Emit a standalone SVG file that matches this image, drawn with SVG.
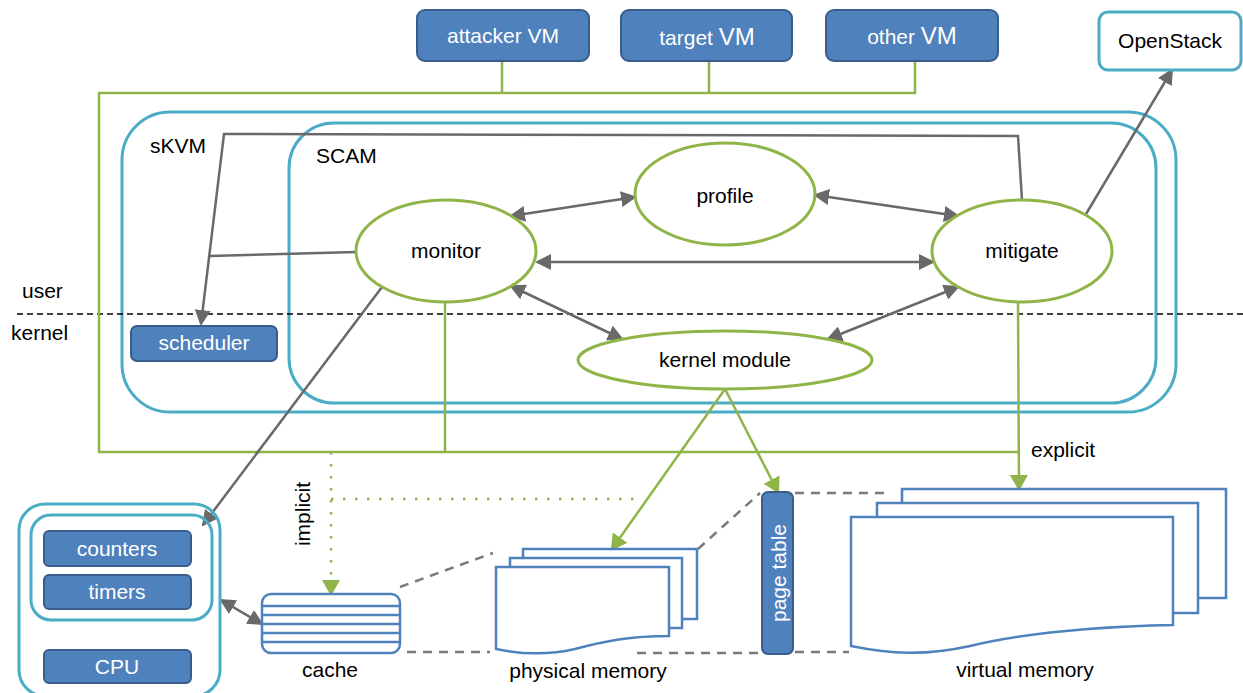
<svg xmlns="http://www.w3.org/2000/svg" width="1243" height="693" viewBox="0 0 1243 693">
  <style>
    text { font-family: "Liberation Sans", Arial, sans-serif; font-size: 21px; fill: #000; }
    .w { fill: #fff; }
    .mid { text-anchor: middle; }
    .blk { fill: #4f81bd; stroke: #385d8a; stroke-width: 2; }
    .aqua { fill: none; stroke: #4bacc6; stroke-width: 3; }
    .aquaw { fill: #fff; stroke: #4bacc6; stroke-width: 3; }
    .oval { fill: #fff; stroke: #8fb448; stroke-width: 3; }
    .doc { fill: #fff; stroke: #4f81bd; stroke-width: 2.5; }
    .gray { fill: none; stroke: #696969; stroke-width: 2.5; }
    .green { fill: none; stroke: #8fb448; stroke-width: 2.5; }
    .dot { fill: none; stroke: #8fb448; stroke-width: 2.5; stroke-dasharray: 2.5 9.5; }
    .dash { fill: none; stroke: #7a7a7a; stroke-width: 2.5; stroke-dasharray: 9 7; }
    .ukline { fill: none; stroke: #000; stroke-width: 1.5; stroke-dasharray: 6 4; }
  </style>
  <defs>
    <marker id="ah-gray" markerUnits="userSpaceOnUse" viewBox="0 0 16 16" markerWidth="16" markerHeight="16" refX="14" refY="8" orient="auto-start-reverse">
      <path d="M0,0 L16,8 L0,16 z" fill="#696969"/>
    </marker>
    <marker id="ah-green" markerUnits="userSpaceOnUse" viewBox="0 0 16 18" markerWidth="16" markerHeight="18" refX="14" refY="9" orient="auto-start-reverse">
      <path d="M0,0 L16,9 L0,18 z" fill="#8fb448"/>
    </marker>
  </defs>

  <rect width="1243" height="693" fill="#fff"/>

  <!-- containers -->
  <g id="skvm">
    <rect class="aqua" x="122" y="112" width="1054" height="300" rx="48"/>
    <text x="150" y="153">sKVM</text>
  </g>
  <g id="scam">
    <rect class="aqua" x="289" y="123" width="867" height="280" rx="45"/>
    <text x="316" y="163">SCAM</text>
  </g>

  <!-- user / kernel boundary -->
  <g id="boundary">
    <line class="ukline" x1="17" y1="314" x2="1243" y2="314"/>
    <text x="22" y="298">user</text>
    <text x="11" y="340">kernel</text>
  </g>

  <!-- connectors -->
  <g id="connectors">
    <!-- VM attachment frame -->
    <path class="green" d="M502,61 V93 M709,61 V93 M915,61 V93 H99 V452 H1020"/>
    <path class="green" d="M445,302 V452"/>
    <path class="green" d="M1018,302 L1019,489" marker-end="url(#ah-green)"/>
    <path class="green" d="M725,389 L612,549" marker-end="url(#ah-green)"/>
    <path class="green" d="M725,389 L778,492" marker-end="url(#ah-green)"/>
    <path class="dot" d="M331,452 V594" marker-end="url(#ah-green)"/>
    <path class="dot" d="M331,499 H640"/>

    <path class="gray" d="M511,216 L635,197" marker-start="url(#ah-gray)" marker-end="url(#ah-gray)"/>
    <path class="gray" d="M815,195 L958,216" marker-start="url(#ah-gray)" marker-end="url(#ah-gray)"/>
    <path class="gray" d="M537,262 L933,262" marker-start="url(#ah-gray)" marker-end="url(#ah-gray)"/>
    <path class="gray" d="M511,286 L622,339" marker-start="url(#ah-gray)" marker-end="url(#ah-gray)"/>
    <path class="gray" d="M958,287 L828,339" marker-start="url(#ah-gray)" marker-end="url(#ah-gray)"/>
    <path class="gray" d="M1022,200 L1018,136 L224,134 L201,324" marker-end="url(#ah-gray)"/>
    <path class="gray" d="M356,252 L210,256"/>
    <path class="gray" d="M382,287 L203,525" marker-end="url(#ah-gray)"/>
    <path class="gray" d="M1086,214 L1172,70" marker-end="url(#ah-gray)"/>
    <path class="gray" d="M221,600 L262,624" marker-start="url(#ah-gray)" marker-end="url(#ah-gray)"/>

    <!-- memory mapping guides -->
    <path class="dash" d="M400,587 L493,553"/>
    <path class="dash" d="M407,652 H490"/>
    <path class="dash" d="M698,549 L760,493"/>
    <path class="dash" d="M637,653 H760"/>
    <path class="dash" d="M795,493 H884"/>
    <path class="dash" d="M795,652 H849"/>

    <text x="1031" y="457">explicit</text>
    <text class="mid" transform="translate(310,514) rotate(-90)">implicit</text>
  </g>

  <!-- guest VMs -->
  <g id="attacker-vm">
    <rect class="blk" x="417" y="10" width="172" height="51" rx="8"/>
    <text class="w mid" x="503" y="43">attacker VM</text>
  </g>
  <g id="target-vm">
    <rect class="blk" x="621" y="10" width="171" height="51" rx="8"/>
    <text class="w mid" x="707" y="45">target <tspan font-size="24">VM</tspan></text>
  </g>
  <g id="other-vm">
    <rect class="blk" x="826" y="10" width="172" height="51" rx="8"/>
    <text class="w mid" x="912" y="44">other <tspan font-size="24">VM</tspan></text>
  </g>
  <g id="openstack">
    <rect class="aquaw" x="1099" y="12" width="142" height="58" rx="9"/>
    <text class="mid" x="1170" y="48">OpenStack</text>
  </g>

  <!-- SCAM components -->
  <g id="profile">
    <ellipse class="oval" cx="725" cy="194" rx="90" ry="51"/>
    <text class="mid" x="725" y="203">profile</text>
  </g>
  <g id="monitor">
    <ellipse class="oval" cx="446" cy="251" rx="90" ry="51"/>
    <text class="mid" x="446" y="258">monitor</text>
  </g>
  <g id="mitigate">
    <ellipse class="oval" cx="1022" cy="251" rx="90" ry="51"/>
    <text class="mid" x="1022" y="258">mitigate</text>
  </g>
  <g id="kernel-module">
    <ellipse class="oval" cx="725" cy="360" rx="147" ry="29"/>
    <text class="mid" x="725" y="367">kernel module</text>
  </g>

  <g id="scheduler">
    <rect class="blk" x="131" y="326" width="146" height="35" rx="6"/>
    <text class="w mid" x="204" y="350">scheduler</text>
  </g>

  <!-- processor -->
  <g id="cpu-package">
    <rect class="aqua" x="19" y="504" width="201" height="192" rx="26"/>
    <rect class="aqua" x="31" y="515" width="181" height="105" rx="20"/>
    <rect class="blk" x="44" y="531" width="147" height="35" rx="5"/>
    <text class="w mid" x="117" y="556">counters</text>
    <rect class="blk" x="44" y="575" width="147" height="34" rx="5"/>
    <text class="w mid" x="117" y="599">timers</text>
    <rect class="blk" x="44" y="650" width="147" height="33" rx="5"/>
    <text class="w mid" x="117" y="674">CPU</text>
  </g>

  <g id="cache">
    <rect class="doc" x="262" y="594" width="138" height="59" rx="9"/>
    <path fill="none" stroke="#4f81bd" stroke-width="2.5" d="M262,606 H400 M262,615 H400 M262,624 H400 M262,633 H400 M262,642 H400"/>
    <text class="mid" x="330" y="677">cache</text>
  </g>

  <g id="physical-memory">
    <rect class="doc" x="523" y="549" width="174" height="70"/>
    <rect class="doc" x="510" y="558" width="172" height="70"/>
    <path class="doc" d="M496,567 H669 V636 C630,636 605,641 575,649 C545,656 520,654 496,649 Z"/>
    <text class="mid" x="588" y="678">physical memory</text>
  </g>

  <g id="page-table">
    <rect class="blk" x="762" y="492" width="31" height="162" rx="6"/>
    <text class="w mid" transform="translate(786,573) rotate(-90)">page table</text>
  </g>

  <g id="virtual-memory">
    <rect class="doc" x="902" y="489" width="324" height="109"/>
    <rect class="doc" x="877" y="503" width="321" height="110"/>
    <path class="doc" d="M851,517 H1173 V625 C1080,627 1020,634 970,646 C925,656 890,654 851,646 Z"/>
    <text class="mid" x="1025" y="677">virtual memory</text>
  </g>
</svg>
